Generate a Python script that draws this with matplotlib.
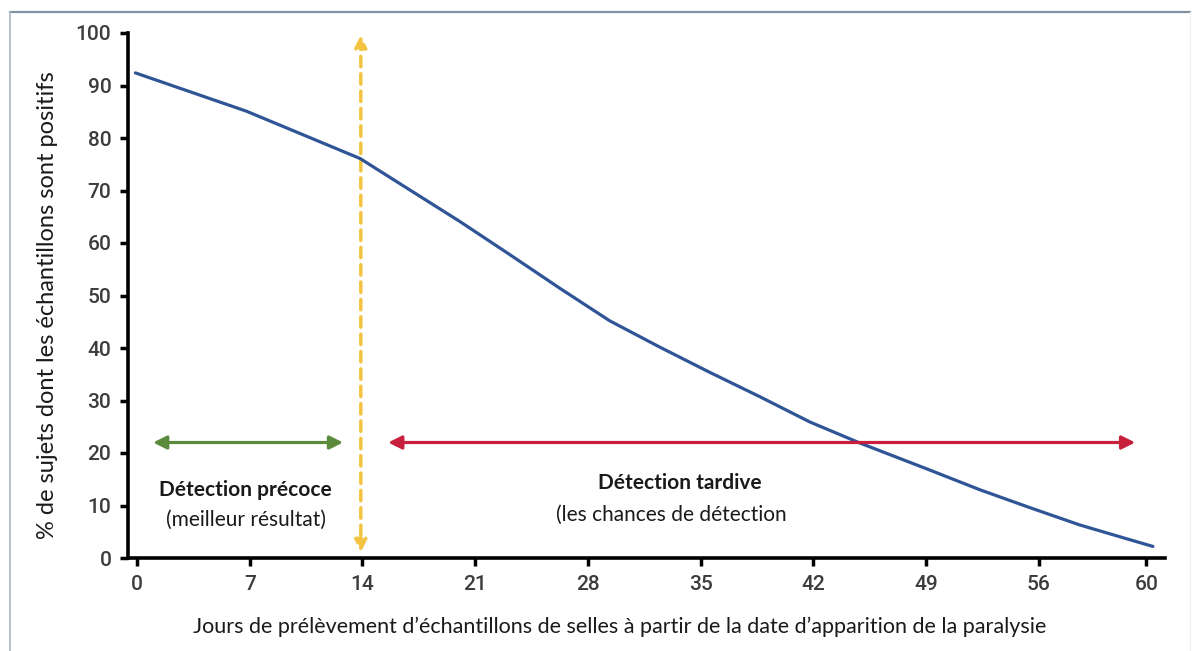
import numpy as np
import matplotlib.pyplot as plt

# Valeurs (position en jours sur l'axe, % positifs)
jours = [-0.1, 6.8, 13.85, 17.0, 20.05, 23.15, 26.25, 29.35, 32.45, 35.55,
         38.7, 41.8, 44.9, 49.2, 52.35, 55.45, 58.55, 61.65, 63.1]
pct_positifs = [92.4, 85.1, 76.1, 70.0, 64.1, 57.8, 51.4, 45.2, 40.2, 35.4,
                30.7, 25.9, 21.9, 16.8, 13.0, 9.6, 6.3, 3.5, 2.2]

# Graduations (le "60" est placé plus loin, comme sur l'original)
pos_ticks_x = [0, 7, 14, 21, 28, 35, 42, 49, 56, 62.7]
labels_ticks_x = ['0', '7', '14', '21', '28', '35', '42', '49', '56', '60']
ticks_y = list(range(0, 101, 10))

# Zones de détection
precoce = (1.0, 12.8)
tardive = (15.6, 62.0)
y_fleches = 22
jour_limite = 13.9

texte = ['Lato', 'DejaVu Sans']
chiffres = ['Roboto', 'DejaVu Sans']

fig = plt.figure(figsize=(11.97, 6.51), dpi=100)
ax = fig.add_axes([128 / 1197, 1 - 558 / 651, (1165 - 128) / 1197, (558 - 33) / 651])

# cadre autour de l'image
fig.add_artist(plt.Line2D([10 / 1197, 1190 / 1197], [1 - 12 / 651, 1 - 12 / 651],
                          transform=fig.transFigure, color='#7f90a0', lw=1.6))
fig.add_artist(plt.Line2D([10 / 1197, 10 / 1197], [1 - 12 / 651, 0],
                          transform=fig.transFigure, color='#a8b8c8', lw=1.2))
fig.add_artist(plt.Line2D([1190 / 1197, 1190 / 1197], [1 - 12 / 651, 0],
                          transform=fig.transFigure, color='#eef0f2', lw=1.0))

ax.plot(jours, pct_positifs, color='#2f5597', lw=2.3, solid_capstyle='round',
        solid_joinstyle='round', zorder=3)

# flèches
ax.annotate('', xy=(precoce[0], y_fleches), xytext=(precoce[1], y_fleches),
            arrowprops=dict(arrowstyle='<|-|>', color='#5b8a3c', lw=2.3,
                            mutation_scale=20, shrinkA=0, shrinkB=0))
ax.annotate('', xy=(tardive[0], y_fleches), xytext=(tardive[1], y_fleches),
            arrowprops=dict(arrowstyle='<|-|>', color='#c8203c', lw=2.3,
                            mutation_scale=20, shrinkA=0, shrinkB=0))
ax.annotate('', xy=(jour_limite, 1.1), xytext=(jour_limite, 99.6),
            arrowprops=dict(arrowstyle='<|-|>', color='#f5c342', lw=2.5, ls=(0, (3, 2)),
                            mutation_scale=18, shrinkA=0, shrinkB=0), zorder=2)

ax.text(6.75, 13, 'Détection précoce', ha='center', va='center', fontsize=15,
        fontweight='bold', family=texte, color='#1a1a1a')
ax.text(6.75, 7.3, '(meilleur résultat)', ha='center', va='center', fontsize=15,
        family=texte, color='#1a1a1a')
ax.text(33.7, 14.2, 'Détection tardive', ha='center', va='center', fontsize=15,
        fontweight='bold', family=texte, color='#1a1a1a')
ax.text(33.2, 8.3, '(les chances de détection', ha='center', va='center', fontsize=15,
        family=texte, color='#1a1a1a')

ax.set_xlim(-0.56, 63.85)
ax.set_ylim(0, 100)
ax.set_xticks(pos_ticks_x)
ax.set_xticklabels(labels_ticks_x, family=chiffres, fontsize=15, fontweight='medium',
                   color='#3c3c3c')
ax.set_yticks(ticks_y)
ax.set_yticklabels([str(v) for v in ticks_y], family=chiffres, fontsize=15,
                   fontweight='medium', color='#3c3c3c')
ax.tick_params(axis='both', length=6, width=2.5, color='black', pad=6)

for cote in ['top', 'right']:
    ax.spines[cote].set_visible(False)
for cote in ['left', 'bottom']:
    ax.spines[cote].set_linewidth(2.6)
    ax.spines[cote].set_color('black')

ax.set_ylabel('% de sujets dont les échantillons sont positifs', family=texte,
              fontsize=17, color='#1a1a1a')
ax.yaxis.set_label_coords(-(128 - 58) / (1165 - 128), (558 - 305) / (558 - 33))
ax.set_xlabel('Jours de prélèvement d’échantillons de selles à partir de la date d’apparition de la paralysie',
              family=texte, fontsize=15.5, color='#1a1a1a')
ax.xaxis.set_label_coords((620 - 128) / (1165 - 128), -(617 - 558) / (558 - 33))

fig.savefig('out.png', dpi=100)
